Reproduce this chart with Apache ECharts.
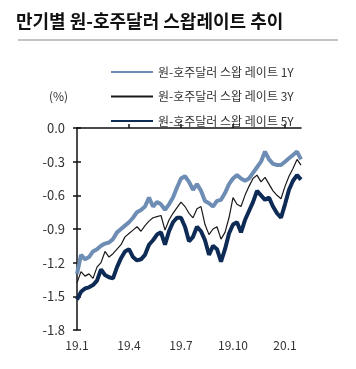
<!DOCTYPE html>
<html><head><meta charset="utf-8">
<script src="https://cdn.jsdelivr.net/npm/echarts@6/dist/echarts.min.js"></script>
<style>html,body{margin:0;padding:0;background:#fff}#c{width:356px;height:369px}</style>
</head><body><div id="c"></div>
<script>
// weekly observation dates (2019-01-01 .. 2020-01-21)
const dates = [];
(function(){ const d0 = Date.UTC(2019,0,1); for(let i=0;i<57;i++){ const d=new Date(d0+i*7*86400000); dates.push(d.toISOString().slice(0,10)); } })();
const tickLabels = ['19.1','19.4','19.7','19.10','20.1'];
const tickIdx = [0,13,26,39,52];
const seriesNames = ['원-호주달러 스왑 레이트 1Y','원-호주달러 스왑 레이트 3Y','원-호주달러 스왑 레이트 5Y'];
const swap1Y = [-1.30,-1.13,-1.17,-1.15,-1.10,-1.08,-1.05,-1.03,-1.02,-0.99,-0.93,-0.90,-0.87,-0.84,-0.80,-0.75,-0.73,-0.70,-0.62,-0.70,-0.66,-0.68,-0.73,-0.68,-0.62,-0.53,-0.45,-0.43,-0.48,-0.55,-0.50,-0.56,-0.65,-0.67,-0.70,-0.65,-0.64,-0.58,-0.50,-0.45,-0.42,-0.45,-0.47,-0.45,-0.40,-0.35,-0.30,-0.21,-0.28,-0.32,-0.33,-0.33,-0.30,-0.27,-0.24,-0.21,-0.28];
const swap3Y = [-1.38,-1.28,-1.32,-1.30,-1.34,-1.24,-1.20,-1.10,-1.15,-1.12,-1.08,-1.04,-0.97,-0.94,-0.91,-0.88,-0.92,-0.87,-0.83,-0.80,-0.79,-0.78,-0.91,-0.82,-0.76,-0.71,-0.66,-0.70,-0.76,-0.80,-0.72,-0.70,-0.86,-0.95,-0.90,-0.88,-0.99,-0.93,-0.80,-0.62,-0.68,-0.70,-0.60,-0.52,-0.45,-0.42,-0.48,-0.44,-0.50,-0.56,-0.60,-0.63,-0.52,-0.43,-0.36,-0.28,-0.33];
const swap5Y = [-1.53,-1.46,-1.43,-1.42,-1.40,-1.36,-1.26,-1.31,-1.33,-1.34,-1.24,-1.16,-1.10,-1.08,-1.15,-1.18,-1.17,-1.13,-1.04,-1.00,-0.95,-0.93,-1.04,-0.92,-0.84,-0.80,-0.80,-0.88,-1.01,-0.97,-0.88,-0.92,-1.00,-1.13,-1.05,-1.08,-1.19,-1.08,-0.94,-0.86,-0.84,-0.93,-0.82,-0.74,-0.66,-0.56,-0.60,-0.64,-0.62,-0.70,-0.76,-0.80,-0.68,-0.55,-0.47,-0.42,-0.46];
const yMin = -1.8, yMax = 0, yStep = 0.3;

const FONT = '"Noto Sans CJK KR", "Noto Sans", sans-serif';
const chart = echarts.init(document.getElementById('c'), null, {renderer:'canvas'});
const isTick = (i) => tickIdx.indexOf(i) >= 0;
chart.setOption({
  animation:false,
  textStyle:{fontFamily:FONT},
  title:[
    {text:'만기별 원-호주달러 스왑레이트 추이', left:16, top:12, padding:0, textStyle:{fontFamily:FONT, fontSize:18, fontWeight:'bold', color:'#111'}},
    {text:'(%)', left:49, top:90, padding:0, textStyle:{fontFamily:FONT, fontSize:12, fontWeight:'normal', color:'#333'}}
  ],
  graphic:[{type:'line', shape:{x1:18,y1:40,x2:338,y2:40}, style:{stroke:'#b0b0b0', lineWidth:1.5}}],
  legend:{
    orient:'vertical', left:110, top:66, padding:0, itemWidth:42, itemHeight:12, itemGap:12.5,
    itemStyle:{opacity:0},
    textStyle:{fontFamily:FONT, fontSize:12, color:'#333'},
    data:seriesNames
  },
  grid:{left:77, right:55, top:128, bottom:39},
  xAxis:[
    {type:'category', data:dates, boundaryGap:false, position:'bottom',
     axisLine:{show:false}, axisTick:{show:false}, splitLine:{show:false},
     axisLabel:{interval:(i)=>isTick(i), formatter:(v,i)=>tickLabels[tickIdx.indexOf(i)], margin:9, fontSize:12, color:'#333', fontFamily:FONT}},
    {type:'category', data:dates, boundaryGap:false, position:'top',
     axisLine:{show:true, lineStyle:{color:'#111', width:1.5}},
     axisTick:{show:true, interval:(i)=>isTick(i) && i>0, length:4, lineStyle:{color:'#111', width:1.5}},
     axisLabel:{show:false}, splitLine:{show:false}}
  ],
  yAxis:[
    {type:'value', min:yMin, max:yMax, interval:yStep,
     axisLine:{show:true, lineStyle:{color:'#111', width:1.5}},
     axisTick:{show:true, length:4, lineStyle:{color:'#111', width:1.5}},
     axisLabel:{formatter:(v)=>v.toFixed(1), margin:12, fontSize:13, color:'#333', fontFamily:FONT},
     splitLine:{show:false}},
    {type:'value', min:yMin, max:yMax, interval:yStep, position:'left', offset:0,
     axisLine:{show:false}, axisTick:{show:true, inside:true, length:4, lineStyle:{color:'#111', width:1.5}},
     axisLabel:{show:false}, splitLine:{show:false}}
  ],
  series:[
    {name:seriesNames[0], type:'line', data:swap1Y, symbol:'none', lineStyle:{color:'#6E8DB5', width:4}, itemStyle:{color:'#6E8DB5'}, z:2},
    {name:seriesNames[1], type:'line', data:swap3Y, symbol:'none', lineStyle:{color:'#1a1a1a', width:1.2}, itemStyle:{color:'#1a1a1a'}, z:4},
    {name:seriesNames[2], type:'line', data:swap5Y, symbol:'none', lineStyle:{color:'#0D2B55', width:4}, itemStyle:{color:'#0D2B55'}, z:3}
  ]
});
</script></body></html>
